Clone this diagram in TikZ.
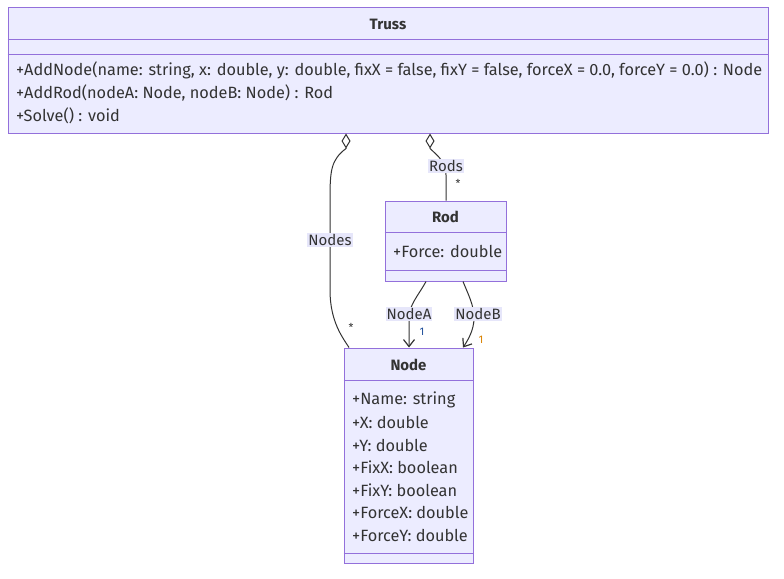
\documentclass[tikz,border=0pt]{standalone}
\usepackage{fontspec}
\setmainfont{Fira Sans}
\usetikzlibrary{arrows.meta}
\definecolor{classfill}{HTML}{ECECFF}
\definecolor{classline}{HTML}{9370DB}
\definecolor{txt}{HTML}{333333}
\definecolor{edge}{HTML}{333333}
\definecolor{labfill}{HTML}{E6E6FA}
\definecolor{oneA}{HTML}{1F4E9A}
\definecolor{oneB}{HTML}{D98200}
\begin{document}
\begin{tikzpicture}[
  x=1pt, y=-1pt,
  classbox/.style={draw=classline, fill=classfill, line width=1pt, inner sep=0pt},
  sep/.style={draw=classline, line width=1pt},
  title/.style={font=\fontsize{15}{17}\selectfont\bfseries, text=txt, inner sep=0pt},
  member/.style={font=\fontsize{16.3}{18}\selectfont, text=txt, anchor=west, inner sep=0pt},
  elabel/.style={fill=labfill, font=\fontsize{15}{17}\selectfont, text=txt, inner sep=1pt},
  mult/.style={font=\fontsize{11}{12}\selectfont, text=txt, inner sep=0pt},
  conn/.style={draw=edge, line width=1pt},
  agg/.style={conn, {Diamond[open, length=15pt, width=9pt]}-},
  nav/.style={conn, -{Straight Barb[length=7pt, width=11pt, line width=1.2pt]}},
]
\useasboundingbox (0,0) rectangle (784,578);

% Class: Truss
\node[classbox, minimum width=760, minimum height=125] (truss) at (388,70.5) {};
\node[title] (trussT) at (388,24) {Truss};
\draw[sep] (truss.west |- 0,40) -- (truss.east |- 0,40);
\draw[sep] (truss.west |- 0,55) -- (truss.east |- 0,55);
\node[member] (trussM1) at (16,70) {+AddNode(name: string, x: double, y: double, fixX = false, fixY = false, forceX = 0.0, forceY = 0.0) : Node};
\node[member] (trussM2) at (16,93) {+AddRod(nodeA: Node, nodeB: Node) : Rod};
\node[member] (trussM3) at (16,116) {+Solve() : void};

% Class: Rod
\node[classbox, minimum width=121, minimum height=80] (rod) at (445.5,241) {};
\node[title] (rodT) at (445.5,217) {Rod};
\draw[sep] (rod.west |- 0,232) -- (rod.east |- 0,232);
\draw[sep] (rod.west |- 0,270) -- (rod.east |- 0,270);
\node[member] (rodM1) at (393,251) {+Force: double};

% Class: Node
\node[classbox, minimum width=129, minimum height=215] (node) at (408.5,455.5) {};
\node[title] (nodeT) at (408.5,365) {Node};
\draw[sep] (node.west |- 0,380) -- (node.east |- 0,380);
\draw[sep] (node.west |- 0,553) -- (node.east |- 0,553);
\node[member] (nodeM1) at (352,400) {+Name: string};
\node[member] (nodeM2) at (352,422) {+X: double};
\node[member] (nodeM3) at (352,445) {+Y: double};
\node[member] (nodeM4) at (352,467) {+FixX: boolean};
\node[member] (nodeM5) at (352,490) {+FixY: boolean};
\node[member] (nodeM6) at (352,512) {+ForceX: double};
\node[member] (nodeM7) at (352,535) {+ForceY: double};

% Truss o-- Node : Nodes
\coordinate (nodesS) at (truss.south -| 346,0);
\coordinate (nodesE) at (node.north -| 349,0);
\draw[agg] (nodesS) -- ++(0,15) .. controls (331,160) and (330,170) .. (330,200)
  -- (330,290) .. controls (330,322) and (343,338) .. (nodesE);
\node[elabel] (nodesL) at (330,240) {Nodes};
\node[mult] (nodesM) at (351,327) {*};

% Truss o-- Rod : Rods
\coordinate (rodsS) at (truss.south -| 430,0);
\draw[agg] (rodsS) -- ++(0,15) .. controls (438,156) and (446,162) .. (446,175) -- (rod.north -| 446,0);
\node[elabel] (rodsL) at (446,166) {Rods};
\node[mult] (rodsM) at (458,183) {*};

% Rod --> Node : NodeA / NodeB
\draw[nav] (rod.south -| 426,0) .. controls (418,296) and (409,305) .. (409,318) -- (node.north -| 409,0);
\node[elabel] (nodeAL) at (409,314) {NodeA};
\node[mult, text=oneA] (nodeAM) at (422,332) {1};
\draw[nav] (rod.south -| 463,0) .. controls (468,294) and (474,305) .. (474,318) .. controls (474,330) and (468,340) .. (node.north -| 463,0);
\node[elabel] (nodeBL) at (478,314) {NodeB};
\node[mult, text=oneB] (nodeBM) at (481,340) {1};

\end{tikzpicture}
\end{document}
